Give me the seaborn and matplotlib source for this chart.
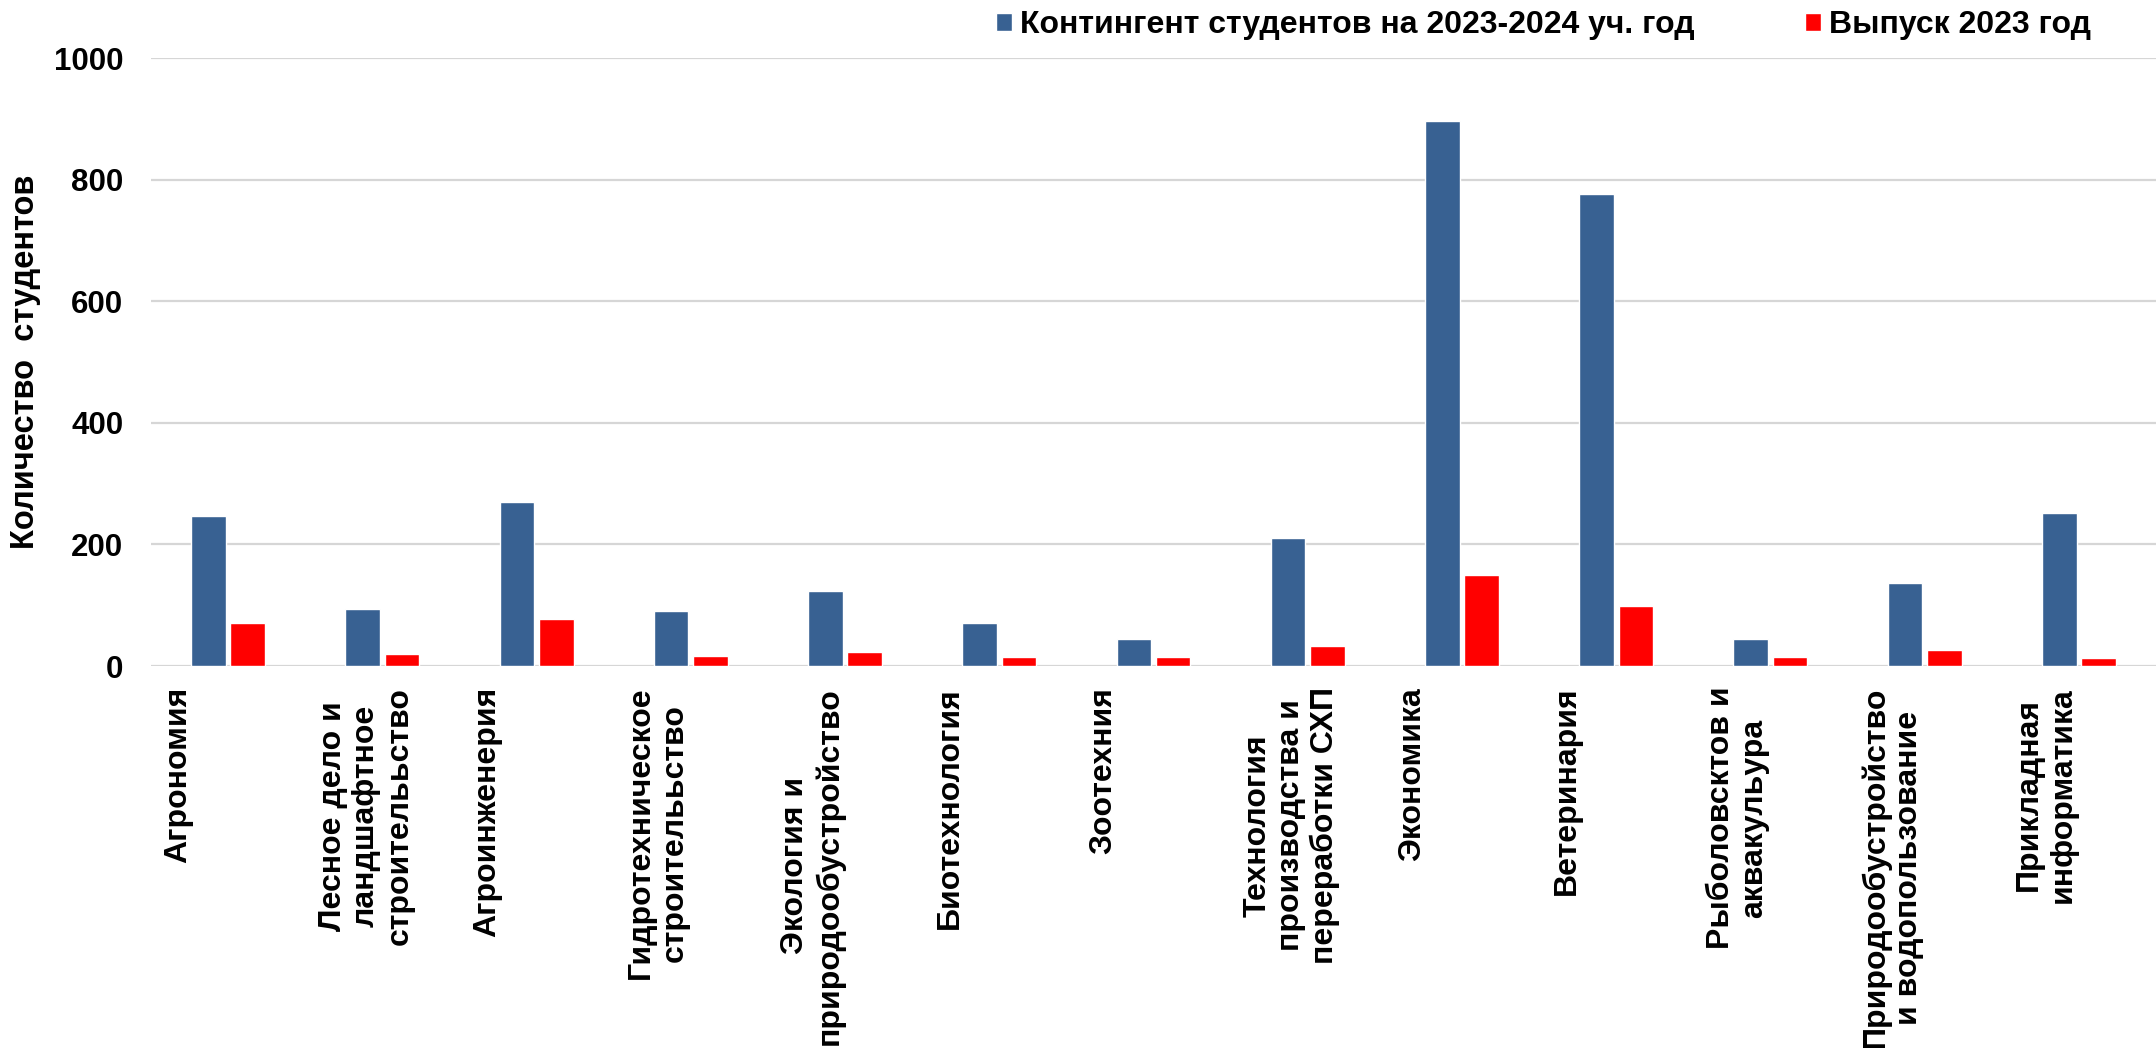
import numpy as np
import pandas as pd
import seaborn as sns
from matplotlib import pyplot as plt

# categories (text kept as in the original chart)
categories = [
    'Агрономия',
    'Лесное дело и\nландшафтное\nстроителььство',
    'Агроинженерия',
    'Гидротехническое\nстроителььство',
    'Экология и\nприродообустройство',
    'Биотехнология',
    'Зоотехния',
    'Технология\nпроизводства и\nпереработки СХП',
    'Экономика',
    'Ветеринария',
    'Рыболовсктов и\nаквакульура',
    'Природообустройство\nи водопользование',
    'Прикладная\nинформатика',
]
contingent = [247, 94, 270, 90, 124, 71, 45, 210, 896, 776, 45, 137, 252]
graduates = [71, 20, 77, 17, 23, 15, 15, 33, 149, 99, 14, 26, 13]
series_names = ['Контингент студентов на 2023-2024 уч. год', 'Выпуск 2023 год']
colors = ['#386192', '#FF0000']

df = pd.DataFrame({
    'cat': categories * 2,
    'value': contingent + graduates,
    'series': [series_names[0]] * len(categories) + [series_names[1]] * len(categories),
})

sns.set_style('white')
plt.rcParams['font.family'] = ['Liberation Sans', 'DejaVu Sans']
plt.rcParams['font.weight'] = 'bold'
plt.rcParams['text.color'] = 'black'
plt.rcParams['axes.labelcolor'] = 'black'
plt.rcParams['xtick.color'] = 'black'
plt.rcParams['ytick.color'] = 'black'

fig = plt.figure(figsize=(21.56, 10.48), dpi=100)
ax = fig.add_axes([151 / 2156, 1 - 666 / 1048, 1 - 151 / 2156, (666 - 58) / 1048])

sns.barplot(data=df, x='cat', y='value', hue='series', palette=colors,
            width=0.51, gap=0.12, saturation=1, ax=ax, legend=True)

ax.set_ylim(0, 1000)
ax.set_xlim(-0.5, len(categories) - 0.5)
ax.set_yticks([0, 200, 400, 600, 800, 1000])
ax.yaxis.grid(True, color='#d6d6d6', linewidth=1.6)
ax.set_axisbelow(True)
for s in ax.spines.values():
    s.set_visible(False)

ax.tick_params(axis='y', length=0, pad=20, labelsize=22.5)
ax.tick_params(axis='x', length=0, pad=15)
# labels sit left of each bar pair, as in the source chart
ax.set_xticks(np.arange(len(categories)) - 0.42)
ax.set_xticklabels(categories, rotation=90, ha='left', va='top',
                   multialignment='center', fontsize=23, linespacing=1.15)
for t in ax.get_yticklabels():
    t.set_fontweight('bold')

ax.set_xlabel('')
ax.set_ylabel('Количество  студентов', fontsize=23.5, fontweight='bold', labelpad=9)

handles, labels = ax.get_legend_handles_labels()
ax.legend(handles, labels, ncol=2, frameon=False, loc='center left',
          bbox_to_anchor=(996 / 2156, 1 - 25 / 1048), bbox_transform=fig.transFigure,
          fontsize=23, handlelength=0.5, handleheight=0.5, handletextpad=0.25,
          columnspacing=3.45, borderpad=0, borderaxespad=0)

fig.savefig('out.png', dpi=100)
